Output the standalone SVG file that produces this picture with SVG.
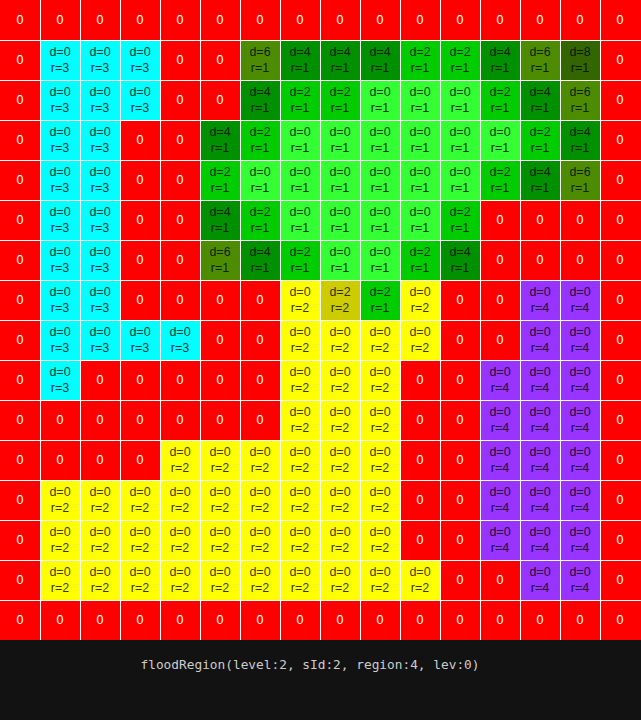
<svg xmlns="http://www.w3.org/2000/svg" width="641" height="720" viewBox="0 0 641 720">
<style>
.R{fill:#ff0000}.C{fill:#00ffff}.Y{fill:#ffff00}.y{fill:#cccc00}.P{fill:#9933ff}
.g0{fill:#33ff33}.g2{fill:#00cc00}.g4{fill:#009000}.g6{fill:#4d8c00}.g8{fill:#336600}
text{font-family:"Liberation Sans",Arial,sans-serif;font-size:12.5px;text-anchor:middle}
.z{fill:#ffffff}
.t{fill:#000000;fill-opacity:0.8}
.lbl{font-family:"DejaVu Sans Mono","Liberation Mono",monospace;font-size:12.8px;fill:#cccccc}
.grid{fill:#ffffff}
</style>
<rect x="0" y="640" width="641" height="80" fill="#121212"/>
<g id="cells">
<!-- row 0 -->
<g id="r0c0"><rect class="R" x="0" y="0" width="40" height="40"/><text class="z" x="20" y="24">0</text></g>
<g id="r0c1"><rect class="R" x="40" y="0" width="40" height="40"/><text class="z" x="60" y="24">0</text></g>
<g id="r0c2"><rect class="R" x="80" y="0" width="40" height="40"/><text class="z" x="100" y="24">0</text></g>
<g id="r0c3"><rect class="R" x="120" y="0" width="40" height="40"/><text class="z" x="140" y="24">0</text></g>
<g id="r0c4"><rect class="R" x="160" y="0" width="40" height="40"/><text class="z" x="180" y="24">0</text></g>
<g id="r0c5"><rect class="R" x="200" y="0" width="40" height="40"/><text class="z" x="220" y="24">0</text></g>
<g id="r0c6"><rect class="R" x="240" y="0" width="40" height="40"/><text class="z" x="260" y="24">0</text></g>
<g id="r0c7"><rect class="R" x="280" y="0" width="40" height="40"/><text class="z" x="300" y="24">0</text></g>
<g id="r0c8"><rect class="R" x="320" y="0" width="40" height="40"/><text class="z" x="340" y="24">0</text></g>
<g id="r0c9"><rect class="R" x="360" y="0" width="40" height="40"/><text class="z" x="380" y="24">0</text></g>
<g id="r0c10"><rect class="R" x="400" y="0" width="40" height="40"/><text class="z" x="420" y="24">0</text></g>
<g id="r0c11"><rect class="R" x="440" y="0" width="40" height="40"/><text class="z" x="460" y="24">0</text></g>
<g id="r0c12"><rect class="R" x="480" y="0" width="40" height="40"/><text class="z" x="500" y="24">0</text></g>
<g id="r0c13"><rect class="R" x="520" y="0" width="40" height="40"/><text class="z" x="540" y="24">0</text></g>
<g id="r0c14"><rect class="R" x="560" y="0" width="40" height="40"/><text class="z" x="580" y="24">0</text></g>
<g id="r0c15"><rect class="R" x="600" y="0" width="41" height="40"/><text class="z" x="620" y="24">0</text></g>
<!-- row 1 -->
<g id="r1c0"><rect class="R" x="0" y="40" width="40" height="40"/><text class="z" x="20" y="64">0</text></g>
<g id="r1c1"><rect class="C" x="40" y="40" width="40" height="40"/><text class="t" x="60" y="56">d=0</text><text class="t" x="60" y="72">r=3</text></g>
<g id="r1c2"><rect class="C" x="80" y="40" width="40" height="40"/><text class="t" x="100" y="56">d=0</text><text class="t" x="100" y="72">r=3</text></g>
<g id="r1c3"><rect class="C" x="120" y="40" width="40" height="40"/><text class="t" x="140" y="56">d=0</text><text class="t" x="140" y="72">r=3</text></g>
<g id="r1c4"><rect class="R" x="160" y="40" width="40" height="40"/><text class="z" x="180" y="64">0</text></g>
<g id="r1c5"><rect class="R" x="200" y="40" width="40" height="40"/><text class="z" x="220" y="64">0</text></g>
<g id="r1c6"><rect class="g6" x="240" y="40" width="40" height="40"/><text class="t" x="260" y="56">d=6</text><text class="t" x="260" y="72">r=1</text></g>
<g id="r1c7"><rect class="g4" x="280" y="40" width="40" height="40"/><text class="t" x="300" y="56">d=4</text><text class="t" x="300" y="72">r=1</text></g>
<g id="r1c8"><rect class="g4" x="320" y="40" width="40" height="40"/><text class="t" x="340" y="56">d=4</text><text class="t" x="340" y="72">r=1</text></g>
<g id="r1c9"><rect class="g4" x="360" y="40" width="40" height="40"/><text class="t" x="380" y="56">d=4</text><text class="t" x="380" y="72">r=1</text></g>
<g id="r1c10"><rect class="g2" x="400" y="40" width="40" height="40"/><text class="t" x="420" y="56">d=2</text><text class="t" x="420" y="72">r=1</text></g>
<g id="r1c11"><rect class="g2" x="440" y="40" width="40" height="40"/><text class="t" x="460" y="56">d=2</text><text class="t" x="460" y="72">r=1</text></g>
<g id="r1c12"><rect class="g4" x="480" y="40" width="40" height="40"/><text class="t" x="500" y="56">d=4</text><text class="t" x="500" y="72">r=1</text></g>
<g id="r1c13"><rect class="g6" x="520" y="40" width="40" height="40"/><text class="t" x="540" y="56">d=6</text><text class="t" x="540" y="72">r=1</text></g>
<g id="r1c14"><rect class="g8" x="560" y="40" width="40" height="40"/><text class="t" x="580" y="56">d=8</text><text class="t" x="580" y="72">r=1</text></g>
<g id="r1c15"><rect class="R" x="600" y="40" width="41" height="40"/><text class="z" x="620" y="64">0</text></g>
<!-- row 2 -->
<g id="r2c0"><rect class="R" x="0" y="80" width="40" height="40"/><text class="z" x="20" y="104">0</text></g>
<g id="r2c1"><rect class="C" x="40" y="80" width="40" height="40"/><text class="t" x="60" y="96">d=0</text><text class="t" x="60" y="112">r=3</text></g>
<g id="r2c2"><rect class="C" x="80" y="80" width="40" height="40"/><text class="t" x="100" y="96">d=0</text><text class="t" x="100" y="112">r=3</text></g>
<g id="r2c3"><rect class="C" x="120" y="80" width="40" height="40"/><text class="t" x="140" y="96">d=0</text><text class="t" x="140" y="112">r=3</text></g>
<g id="r2c4"><rect class="R" x="160" y="80" width="40" height="40"/><text class="z" x="180" y="104">0</text></g>
<g id="r2c5"><rect class="R" x="200" y="80" width="40" height="40"/><text class="z" x="220" y="104">0</text></g>
<g id="r2c6"><rect class="g4" x="240" y="80" width="40" height="40"/><text class="t" x="260" y="96">d=4</text><text class="t" x="260" y="112">r=1</text></g>
<g id="r2c7"><rect class="g2" x="280" y="80" width="40" height="40"/><text class="t" x="300" y="96">d=2</text><text class="t" x="300" y="112">r=1</text></g>
<g id="r2c8"><rect class="g2" x="320" y="80" width="40" height="40"/><text class="t" x="340" y="96">d=2</text><text class="t" x="340" y="112">r=1</text></g>
<g id="r2c9"><rect class="g0" x="360" y="80" width="40" height="40"/><text class="t" x="380" y="96">d=0</text><text class="t" x="380" y="112">r=1</text></g>
<g id="r2c10"><rect class="g0" x="400" y="80" width="40" height="40"/><text class="t" x="420" y="96">d=0</text><text class="t" x="420" y="112">r=1</text></g>
<g id="r2c11"><rect class="g0" x="440" y="80" width="40" height="40"/><text class="t" x="460" y="96">d=0</text><text class="t" x="460" y="112">r=1</text></g>
<g id="r2c12"><rect class="g2" x="480" y="80" width="40" height="40"/><text class="t" x="500" y="96">d=2</text><text class="t" x="500" y="112">r=1</text></g>
<g id="r2c13"><rect class="g4" x="520" y="80" width="40" height="40"/><text class="t" x="540" y="96">d=4</text><text class="t" x="540" y="112">r=1</text></g>
<g id="r2c14"><rect class="g6" x="560" y="80" width="40" height="40"/><text class="t" x="580" y="96">d=6</text><text class="t" x="580" y="112">r=1</text></g>
<g id="r2c15"><rect class="R" x="600" y="80" width="41" height="40"/><text class="z" x="620" y="104">0</text></g>
<!-- row 3 -->
<g id="r3c0"><rect class="R" x="0" y="120" width="40" height="40"/><text class="z" x="20" y="144">0</text></g>
<g id="r3c1"><rect class="C" x="40" y="120" width="40" height="40"/><text class="t" x="60" y="136">d=0</text><text class="t" x="60" y="152">r=3</text></g>
<g id="r3c2"><rect class="C" x="80" y="120" width="40" height="40"/><text class="t" x="100" y="136">d=0</text><text class="t" x="100" y="152">r=3</text></g>
<g id="r3c3"><rect class="R" x="120" y="120" width="40" height="40"/><text class="z" x="140" y="144">0</text></g>
<g id="r3c4"><rect class="R" x="160" y="120" width="40" height="40"/><text class="z" x="180" y="144">0</text></g>
<g id="r3c5"><rect class="g4" x="200" y="120" width="40" height="40"/><text class="t" x="220" y="136">d=4</text><text class="t" x="220" y="152">r=1</text></g>
<g id="r3c6"><rect class="g2" x="240" y="120" width="40" height="40"/><text class="t" x="260" y="136">d=2</text><text class="t" x="260" y="152">r=1</text></g>
<g id="r3c7"><rect class="g0" x="280" y="120" width="40" height="40"/><text class="t" x="300" y="136">d=0</text><text class="t" x="300" y="152">r=1</text></g>
<g id="r3c8"><rect class="g0" x="320" y="120" width="40" height="40"/><text class="t" x="340" y="136">d=0</text><text class="t" x="340" y="152">r=1</text></g>
<g id="r3c9"><rect class="g0" x="360" y="120" width="40" height="40"/><text class="t" x="380" y="136">d=0</text><text class="t" x="380" y="152">r=1</text></g>
<g id="r3c10"><rect class="g0" x="400" y="120" width="40" height="40"/><text class="t" x="420" y="136">d=0</text><text class="t" x="420" y="152">r=1</text></g>
<g id="r3c11"><rect class="g0" x="440" y="120" width="40" height="40"/><text class="t" x="460" y="136">d=0</text><text class="t" x="460" y="152">r=1</text></g>
<g id="r3c12"><rect class="g0" x="480" y="120" width="40" height="40"/><text class="t" x="500" y="136">d=0</text><text class="t" x="500" y="152">r=1</text></g>
<g id="r3c13"><rect class="g2" x="520" y="120" width="40" height="40"/><text class="t" x="540" y="136">d=2</text><text class="t" x="540" y="152">r=1</text></g>
<g id="r3c14"><rect class="g4" x="560" y="120" width="40" height="40"/><text class="t" x="580" y="136">d=4</text><text class="t" x="580" y="152">r=1</text></g>
<g id="r3c15"><rect class="R" x="600" y="120" width="41" height="40"/><text class="z" x="620" y="144">0</text></g>
<!-- row 4 -->
<g id="r4c0"><rect class="R" x="0" y="160" width="40" height="40"/><text class="z" x="20" y="184">0</text></g>
<g id="r4c1"><rect class="C" x="40" y="160" width="40" height="40"/><text class="t" x="60" y="176">d=0</text><text class="t" x="60" y="192">r=3</text></g>
<g id="r4c2"><rect class="C" x="80" y="160" width="40" height="40"/><text class="t" x="100" y="176">d=0</text><text class="t" x="100" y="192">r=3</text></g>
<g id="r4c3"><rect class="R" x="120" y="160" width="40" height="40"/><text class="z" x="140" y="184">0</text></g>
<g id="r4c4"><rect class="R" x="160" y="160" width="40" height="40"/><text class="z" x="180" y="184">0</text></g>
<g id="r4c5"><rect class="g2" x="200" y="160" width="40" height="40"/><text class="t" x="220" y="176">d=2</text><text class="t" x="220" y="192">r=1</text></g>
<g id="r4c6"><rect class="g0" x="240" y="160" width="40" height="40"/><text class="t" x="260" y="176">d=0</text><text class="t" x="260" y="192">r=1</text></g>
<g id="r4c7"><rect class="g0" x="280" y="160" width="40" height="40"/><text class="t" x="300" y="176">d=0</text><text class="t" x="300" y="192">r=1</text></g>
<g id="r4c8"><rect class="g0" x="320" y="160" width="40" height="40"/><text class="t" x="340" y="176">d=0</text><text class="t" x="340" y="192">r=1</text></g>
<g id="r4c9"><rect class="g0" x="360" y="160" width="40" height="40"/><text class="t" x="380" y="176">d=0</text><text class="t" x="380" y="192">r=1</text></g>
<g id="r4c10"><rect class="g0" x="400" y="160" width="40" height="40"/><text class="t" x="420" y="176">d=0</text><text class="t" x="420" y="192">r=1</text></g>
<g id="r4c11"><rect class="g0" x="440" y="160" width="40" height="40"/><text class="t" x="460" y="176">d=0</text><text class="t" x="460" y="192">r=1</text></g>
<g id="r4c12"><rect class="g2" x="480" y="160" width="40" height="40"/><text class="t" x="500" y="176">d=2</text><text class="t" x="500" y="192">r=1</text></g>
<g id="r4c13"><rect class="g4" x="520" y="160" width="40" height="40"/><text class="t" x="540" y="176">d=4</text><text class="t" x="540" y="192">r=1</text></g>
<g id="r4c14"><rect class="g6" x="560" y="160" width="40" height="40"/><text class="t" x="580" y="176">d=6</text><text class="t" x="580" y="192">r=1</text></g>
<g id="r4c15"><rect class="R" x="600" y="160" width="41" height="40"/><text class="z" x="620" y="184">0</text></g>
<!-- row 5 -->
<g id="r5c0"><rect class="R" x="0" y="200" width="40" height="40"/><text class="z" x="20" y="224">0</text></g>
<g id="r5c1"><rect class="C" x="40" y="200" width="40" height="40"/><text class="t" x="60" y="216">d=0</text><text class="t" x="60" y="232">r=3</text></g>
<g id="r5c2"><rect class="C" x="80" y="200" width="40" height="40"/><text class="t" x="100" y="216">d=0</text><text class="t" x="100" y="232">r=3</text></g>
<g id="r5c3"><rect class="R" x="120" y="200" width="40" height="40"/><text class="z" x="140" y="224">0</text></g>
<g id="r5c4"><rect class="R" x="160" y="200" width="40" height="40"/><text class="z" x="180" y="224">0</text></g>
<g id="r5c5"><rect class="g4" x="200" y="200" width="40" height="40"/><text class="t" x="220" y="216">d=4</text><text class="t" x="220" y="232">r=1</text></g>
<g id="r5c6"><rect class="g2" x="240" y="200" width="40" height="40"/><text class="t" x="260" y="216">d=2</text><text class="t" x="260" y="232">r=1</text></g>
<g id="r5c7"><rect class="g0" x="280" y="200" width="40" height="40"/><text class="t" x="300" y="216">d=0</text><text class="t" x="300" y="232">r=1</text></g>
<g id="r5c8"><rect class="g0" x="320" y="200" width="40" height="40"/><text class="t" x="340" y="216">d=0</text><text class="t" x="340" y="232">r=1</text></g>
<g id="r5c9"><rect class="g0" x="360" y="200" width="40" height="40"/><text class="t" x="380" y="216">d=0</text><text class="t" x="380" y="232">r=1</text></g>
<g id="r5c10"><rect class="g0" x="400" y="200" width="40" height="40"/><text class="t" x="420" y="216">d=0</text><text class="t" x="420" y="232">r=1</text></g>
<g id="r5c11"><rect class="g2" x="440" y="200" width="40" height="40"/><text class="t" x="460" y="216">d=2</text><text class="t" x="460" y="232">r=1</text></g>
<g id="r5c12"><rect class="R" x="480" y="200" width="40" height="40"/><text class="z" x="500" y="224">0</text></g>
<g id="r5c13"><rect class="R" x="520" y="200" width="40" height="40"/><text class="z" x="540" y="224">0</text></g>
<g id="r5c14"><rect class="R" x="560" y="200" width="40" height="40"/><text class="z" x="580" y="224">0</text></g>
<g id="r5c15"><rect class="R" x="600" y="200" width="41" height="40"/><text class="z" x="620" y="224">0</text></g>
<!-- row 6 -->
<g id="r6c0"><rect class="R" x="0" y="240" width="40" height="40"/><text class="z" x="20" y="264">0</text></g>
<g id="r6c1"><rect class="C" x="40" y="240" width="40" height="40"/><text class="t" x="60" y="256">d=0</text><text class="t" x="60" y="272">r=3</text></g>
<g id="r6c2"><rect class="C" x="80" y="240" width="40" height="40"/><text class="t" x="100" y="256">d=0</text><text class="t" x="100" y="272">r=3</text></g>
<g id="r6c3"><rect class="R" x="120" y="240" width="40" height="40"/><text class="z" x="140" y="264">0</text></g>
<g id="r6c4"><rect class="R" x="160" y="240" width="40" height="40"/><text class="z" x="180" y="264">0</text></g>
<g id="r6c5"><rect class="g6" x="200" y="240" width="40" height="40"/><text class="t" x="220" y="256">d=6</text><text class="t" x="220" y="272">r=1</text></g>
<g id="r6c6"><rect class="g4" x="240" y="240" width="40" height="40"/><text class="t" x="260" y="256">d=4</text><text class="t" x="260" y="272">r=1</text></g>
<g id="r6c7"><rect class="g2" x="280" y="240" width="40" height="40"/><text class="t" x="300" y="256">d=2</text><text class="t" x="300" y="272">r=1</text></g>
<g id="r6c8"><rect class="g0" x="320" y="240" width="40" height="40"/><text class="t" x="340" y="256">d=0</text><text class="t" x="340" y="272">r=1</text></g>
<g id="r6c9"><rect class="g0" x="360" y="240" width="40" height="40"/><text class="t" x="380" y="256">d=0</text><text class="t" x="380" y="272">r=1</text></g>
<g id="r6c10"><rect class="g2" x="400" y="240" width="40" height="40"/><text class="t" x="420" y="256">d=2</text><text class="t" x="420" y="272">r=1</text></g>
<g id="r6c11"><rect class="g4" x="440" y="240" width="40" height="40"/><text class="t" x="460" y="256">d=4</text><text class="t" x="460" y="272">r=1</text></g>
<g id="r6c12"><rect class="R" x="480" y="240" width="40" height="40"/><text class="z" x="500" y="264">0</text></g>
<g id="r6c13"><rect class="R" x="520" y="240" width="40" height="40"/><text class="z" x="540" y="264">0</text></g>
<g id="r6c14"><rect class="R" x="560" y="240" width="40" height="40"/><text class="z" x="580" y="264">0</text></g>
<g id="r6c15"><rect class="R" x="600" y="240" width="41" height="40"/><text class="z" x="620" y="264">0</text></g>
<!-- row 7 -->
<g id="r7c0"><rect class="R" x="0" y="280" width="40" height="40"/><text class="z" x="20" y="304">0</text></g>
<g id="r7c1"><rect class="C" x="40" y="280" width="40" height="40"/><text class="t" x="60" y="296">d=0</text><text class="t" x="60" y="312">r=3</text></g>
<g id="r7c2"><rect class="C" x="80" y="280" width="40" height="40"/><text class="t" x="100" y="296">d=0</text><text class="t" x="100" y="312">r=3</text></g>
<g id="r7c3"><rect class="R" x="120" y="280" width="40" height="40"/><text class="z" x="140" y="304">0</text></g>
<g id="r7c4"><rect class="R" x="160" y="280" width="40" height="40"/><text class="z" x="180" y="304">0</text></g>
<g id="r7c5"><rect class="R" x="200" y="280" width="40" height="40"/><text class="z" x="220" y="304">0</text></g>
<g id="r7c6"><rect class="R" x="240" y="280" width="40" height="40"/><text class="z" x="260" y="304">0</text></g>
<g id="r7c7"><rect class="Y" x="280" y="280" width="40" height="40"/><text class="t" x="300" y="296">d=0</text><text class="t" x="300" y="312">r=2</text></g>
<g id="r7c8"><rect class="y" x="320" y="280" width="40" height="40"/><text class="t" x="340" y="296">d=2</text><text class="t" x="340" y="312">r=2</text></g>
<g id="r7c9"><rect class="g2" x="360" y="280" width="40" height="40"/><text class="t" x="380" y="296">d=2</text><text class="t" x="380" y="312">r=1</text></g>
<g id="r7c10"><rect class="Y" x="400" y="280" width="40" height="40"/><text class="t" x="420" y="296">d=0</text><text class="t" x="420" y="312">r=2</text></g>
<g id="r7c11"><rect class="R" x="440" y="280" width="40" height="40"/><text class="z" x="460" y="304">0</text></g>
<g id="r7c12"><rect class="R" x="480" y="280" width="40" height="40"/><text class="z" x="500" y="304">0</text></g>
<g id="r7c13"><rect class="P" x="520" y="280" width="40" height="40"/><text class="t" x="540" y="296">d=0</text><text class="t" x="540" y="312">r=4</text></g>
<g id="r7c14"><rect class="P" x="560" y="280" width="40" height="40"/><text class="t" x="580" y="296">d=0</text><text class="t" x="580" y="312">r=4</text></g>
<g id="r7c15"><rect class="R" x="600" y="280" width="41" height="40"/><text class="z" x="620" y="304">0</text></g>
<!-- row 8 -->
<g id="r8c0"><rect class="R" x="0" y="320" width="40" height="40"/><text class="z" x="20" y="344">0</text></g>
<g id="r8c1"><rect class="C" x="40" y="320" width="40" height="40"/><text class="t" x="60" y="336">d=0</text><text class="t" x="60" y="352">r=3</text></g>
<g id="r8c2"><rect class="C" x="80" y="320" width="40" height="40"/><text class="t" x="100" y="336">d=0</text><text class="t" x="100" y="352">r=3</text></g>
<g id="r8c3"><rect class="C" x="120" y="320" width="40" height="40"/><text class="t" x="140" y="336">d=0</text><text class="t" x="140" y="352">r=3</text></g>
<g id="r8c4"><rect class="C" x="160" y="320" width="40" height="40"/><text class="t" x="180" y="336">d=0</text><text class="t" x="180" y="352">r=3</text></g>
<g id="r8c5"><rect class="R" x="200" y="320" width="40" height="40"/><text class="z" x="220" y="344">0</text></g>
<g id="r8c6"><rect class="R" x="240" y="320" width="40" height="40"/><text class="z" x="260" y="344">0</text></g>
<g id="r8c7"><rect class="Y" x="280" y="320" width="40" height="40"/><text class="t" x="300" y="336">d=0</text><text class="t" x="300" y="352">r=2</text></g>
<g id="r8c8"><rect class="Y" x="320" y="320" width="40" height="40"/><text class="t" x="340" y="336">d=0</text><text class="t" x="340" y="352">r=2</text></g>
<g id="r8c9"><rect class="Y" x="360" y="320" width="40" height="40"/><text class="t" x="380" y="336">d=0</text><text class="t" x="380" y="352">r=2</text></g>
<g id="r8c10"><rect class="Y" x="400" y="320" width="40" height="40"/><text class="t" x="420" y="336">d=0</text><text class="t" x="420" y="352">r=2</text></g>
<g id="r8c11"><rect class="R" x="440" y="320" width="40" height="40"/><text class="z" x="460" y="344">0</text></g>
<g id="r8c12"><rect class="R" x="480" y="320" width="40" height="40"/><text class="z" x="500" y="344">0</text></g>
<g id="r8c13"><rect class="P" x="520" y="320" width="40" height="40"/><text class="t" x="540" y="336">d=0</text><text class="t" x="540" y="352">r=4</text></g>
<g id="r8c14"><rect class="P" x="560" y="320" width="40" height="40"/><text class="t" x="580" y="336">d=0</text><text class="t" x="580" y="352">r=4</text></g>
<g id="r8c15"><rect class="R" x="600" y="320" width="41" height="40"/><text class="z" x="620" y="344">0</text></g>
<!-- row 9 -->
<g id="r9c0"><rect class="R" x="0" y="360" width="40" height="40"/><text class="z" x="20" y="384">0</text></g>
<g id="r9c1"><rect class="C" x="40" y="360" width="40" height="40"/><text class="t" x="60" y="376">d=0</text><text class="t" x="60" y="392">r=3</text></g>
<g id="r9c2"><rect class="R" x="80" y="360" width="40" height="40"/><text class="z" x="100" y="384">0</text></g>
<g id="r9c3"><rect class="R" x="120" y="360" width="40" height="40"/><text class="z" x="140" y="384">0</text></g>
<g id="r9c4"><rect class="R" x="160" y="360" width="40" height="40"/><text class="z" x="180" y="384">0</text></g>
<g id="r9c5"><rect class="R" x="200" y="360" width="40" height="40"/><text class="z" x="220" y="384">0</text></g>
<g id="r9c6"><rect class="R" x="240" y="360" width="40" height="40"/><text class="z" x="260" y="384">0</text></g>
<g id="r9c7"><rect class="Y" x="280" y="360" width="40" height="40"/><text class="t" x="300" y="376">d=0</text><text class="t" x="300" y="392">r=2</text></g>
<g id="r9c8"><rect class="Y" x="320" y="360" width="40" height="40"/><text class="t" x="340" y="376">d=0</text><text class="t" x="340" y="392">r=2</text></g>
<g id="r9c9"><rect class="Y" x="360" y="360" width="40" height="40"/><text class="t" x="380" y="376">d=0</text><text class="t" x="380" y="392">r=2</text></g>
<g id="r9c10"><rect class="R" x="400" y="360" width="40" height="40"/><text class="z" x="420" y="384">0</text></g>
<g id="r9c11"><rect class="R" x="440" y="360" width="40" height="40"/><text class="z" x="460" y="384">0</text></g>
<g id="r9c12"><rect class="P" x="480" y="360" width="40" height="40"/><text class="t" x="500" y="376">d=0</text><text class="t" x="500" y="392">r=4</text></g>
<g id="r9c13"><rect class="P" x="520" y="360" width="40" height="40"/><text class="t" x="540" y="376">d=0</text><text class="t" x="540" y="392">r=4</text></g>
<g id="r9c14"><rect class="P" x="560" y="360" width="40" height="40"/><text class="t" x="580" y="376">d=0</text><text class="t" x="580" y="392">r=4</text></g>
<g id="r9c15"><rect class="R" x="600" y="360" width="41" height="40"/><text class="z" x="620" y="384">0</text></g>
<!-- row 10 -->
<g id="r10c0"><rect class="R" x="0" y="400" width="40" height="40"/><text class="z" x="20" y="424">0</text></g>
<g id="r10c1"><rect class="R" x="40" y="400" width="40" height="40"/><text class="z" x="60" y="424">0</text></g>
<g id="r10c2"><rect class="R" x="80" y="400" width="40" height="40"/><text class="z" x="100" y="424">0</text></g>
<g id="r10c3"><rect class="R" x="120" y="400" width="40" height="40"/><text class="z" x="140" y="424">0</text></g>
<g id="r10c4"><rect class="R" x="160" y="400" width="40" height="40"/><text class="z" x="180" y="424">0</text></g>
<g id="r10c5"><rect class="R" x="200" y="400" width="40" height="40"/><text class="z" x="220" y="424">0</text></g>
<g id="r10c6"><rect class="R" x="240" y="400" width="40" height="40"/><text class="z" x="260" y="424">0</text></g>
<g id="r10c7"><rect class="Y" x="280" y="400" width="40" height="40"/><text class="t" x="300" y="416">d=0</text><text class="t" x="300" y="432">r=2</text></g>
<g id="r10c8"><rect class="Y" x="320" y="400" width="40" height="40"/><text class="t" x="340" y="416">d=0</text><text class="t" x="340" y="432">r=2</text></g>
<g id="r10c9"><rect class="Y" x="360" y="400" width="40" height="40"/><text class="t" x="380" y="416">d=0</text><text class="t" x="380" y="432">r=2</text></g>
<g id="r10c10"><rect class="R" x="400" y="400" width="40" height="40"/><text class="z" x="420" y="424">0</text></g>
<g id="r10c11"><rect class="R" x="440" y="400" width="40" height="40"/><text class="z" x="460" y="424">0</text></g>
<g id="r10c12"><rect class="P" x="480" y="400" width="40" height="40"/><text class="t" x="500" y="416">d=0</text><text class="t" x="500" y="432">r=4</text></g>
<g id="r10c13"><rect class="P" x="520" y="400" width="40" height="40"/><text class="t" x="540" y="416">d=0</text><text class="t" x="540" y="432">r=4</text></g>
<g id="r10c14"><rect class="P" x="560" y="400" width="40" height="40"/><text class="t" x="580" y="416">d=0</text><text class="t" x="580" y="432">r=4</text></g>
<g id="r10c15"><rect class="R" x="600" y="400" width="41" height="40"/><text class="z" x="620" y="424">0</text></g>
<!-- row 11 -->
<g id="r11c0"><rect class="R" x="0" y="440" width="40" height="40"/><text class="z" x="20" y="464">0</text></g>
<g id="r11c1"><rect class="R" x="40" y="440" width="40" height="40"/><text class="z" x="60" y="464">0</text></g>
<g id="r11c2"><rect class="R" x="80" y="440" width="40" height="40"/><text class="z" x="100" y="464">0</text></g>
<g id="r11c3"><rect class="R" x="120" y="440" width="40" height="40"/><text class="z" x="140" y="464">0</text></g>
<g id="r11c4"><rect class="Y" x="160" y="440" width="40" height="40"/><text class="t" x="180" y="456">d=0</text><text class="t" x="180" y="472">r=2</text></g>
<g id="r11c5"><rect class="Y" x="200" y="440" width="40" height="40"/><text class="t" x="220" y="456">d=0</text><text class="t" x="220" y="472">r=2</text></g>
<g id="r11c6"><rect class="Y" x="240" y="440" width="40" height="40"/><text class="t" x="260" y="456">d=0</text><text class="t" x="260" y="472">r=2</text></g>
<g id="r11c7"><rect class="Y" x="280" y="440" width="40" height="40"/><text class="t" x="300" y="456">d=0</text><text class="t" x="300" y="472">r=2</text></g>
<g id="r11c8"><rect class="Y" x="320" y="440" width="40" height="40"/><text class="t" x="340" y="456">d=0</text><text class="t" x="340" y="472">r=2</text></g>
<g id="r11c9"><rect class="Y" x="360" y="440" width="40" height="40"/><text class="t" x="380" y="456">d=0</text><text class="t" x="380" y="472">r=2</text></g>
<g id="r11c10"><rect class="R" x="400" y="440" width="40" height="40"/><text class="z" x="420" y="464">0</text></g>
<g id="r11c11"><rect class="R" x="440" y="440" width="40" height="40"/><text class="z" x="460" y="464">0</text></g>
<g id="r11c12"><rect class="P" x="480" y="440" width="40" height="40"/><text class="t" x="500" y="456">d=0</text><text class="t" x="500" y="472">r=4</text></g>
<g id="r11c13"><rect class="P" x="520" y="440" width="40" height="40"/><text class="t" x="540" y="456">d=0</text><text class="t" x="540" y="472">r=4</text></g>
<g id="r11c14"><rect class="P" x="560" y="440" width="40" height="40"/><text class="t" x="580" y="456">d=0</text><text class="t" x="580" y="472">r=4</text></g>
<g id="r11c15"><rect class="R" x="600" y="440" width="41" height="40"/><text class="z" x="620" y="464">0</text></g>
<!-- row 12 -->
<g id="r12c0"><rect class="R" x="0" y="480" width="40" height="40"/><text class="z" x="20" y="504">0</text></g>
<g id="r12c1"><rect class="Y" x="40" y="480" width="40" height="40"/><text class="t" x="60" y="496">d=0</text><text class="t" x="60" y="512">r=2</text></g>
<g id="r12c2"><rect class="Y" x="80" y="480" width="40" height="40"/><text class="t" x="100" y="496">d=0</text><text class="t" x="100" y="512">r=2</text></g>
<g id="r12c3"><rect class="Y" x="120" y="480" width="40" height="40"/><text class="t" x="140" y="496">d=0</text><text class="t" x="140" y="512">r=2</text></g>
<g id="r12c4"><rect class="Y" x="160" y="480" width="40" height="40"/><text class="t" x="180" y="496">d=0</text><text class="t" x="180" y="512">r=2</text></g>
<g id="r12c5"><rect class="Y" x="200" y="480" width="40" height="40"/><text class="t" x="220" y="496">d=0</text><text class="t" x="220" y="512">r=2</text></g>
<g id="r12c6"><rect class="Y" x="240" y="480" width="40" height="40"/><text class="t" x="260" y="496">d=0</text><text class="t" x="260" y="512">r=2</text></g>
<g id="r12c7"><rect class="Y" x="280" y="480" width="40" height="40"/><text class="t" x="300" y="496">d=0</text><text class="t" x="300" y="512">r=2</text></g>
<g id="r12c8"><rect class="Y" x="320" y="480" width="40" height="40"/><text class="t" x="340" y="496">d=0</text><text class="t" x="340" y="512">r=2</text></g>
<g id="r12c9"><rect class="Y" x="360" y="480" width="40" height="40"/><text class="t" x="380" y="496">d=0</text><text class="t" x="380" y="512">r=2</text></g>
<g id="r12c10"><rect class="R" x="400" y="480" width="40" height="40"/><text class="z" x="420" y="504">0</text></g>
<g id="r12c11"><rect class="R" x="440" y="480" width="40" height="40"/><text class="z" x="460" y="504">0</text></g>
<g id="r12c12"><rect class="P" x="480" y="480" width="40" height="40"/><text class="t" x="500" y="496">d=0</text><text class="t" x="500" y="512">r=4</text></g>
<g id="r12c13"><rect class="P" x="520" y="480" width="40" height="40"/><text class="t" x="540" y="496">d=0</text><text class="t" x="540" y="512">r=4</text></g>
<g id="r12c14"><rect class="P" x="560" y="480" width="40" height="40"/><text class="t" x="580" y="496">d=0</text><text class="t" x="580" y="512">r=4</text></g>
<g id="r12c15"><rect class="R" x="600" y="480" width="41" height="40"/><text class="z" x="620" y="504">0</text></g>
<!-- row 13 -->
<g id="r13c0"><rect class="R" x="0" y="520" width="40" height="40"/><text class="z" x="20" y="544">0</text></g>
<g id="r13c1"><rect class="Y" x="40" y="520" width="40" height="40"/><text class="t" x="60" y="536">d=0</text><text class="t" x="60" y="552">r=2</text></g>
<g id="r13c2"><rect class="Y" x="80" y="520" width="40" height="40"/><text class="t" x="100" y="536">d=0</text><text class="t" x="100" y="552">r=2</text></g>
<g id="r13c3"><rect class="Y" x="120" y="520" width="40" height="40"/><text class="t" x="140" y="536">d=0</text><text class="t" x="140" y="552">r=2</text></g>
<g id="r13c4"><rect class="Y" x="160" y="520" width="40" height="40"/><text class="t" x="180" y="536">d=0</text><text class="t" x="180" y="552">r=2</text></g>
<g id="r13c5"><rect class="Y" x="200" y="520" width="40" height="40"/><text class="t" x="220" y="536">d=0</text><text class="t" x="220" y="552">r=2</text></g>
<g id="r13c6"><rect class="Y" x="240" y="520" width="40" height="40"/><text class="t" x="260" y="536">d=0</text><text class="t" x="260" y="552">r=2</text></g>
<g id="r13c7"><rect class="Y" x="280" y="520" width="40" height="40"/><text class="t" x="300" y="536">d=0</text><text class="t" x="300" y="552">r=2</text></g>
<g id="r13c8"><rect class="Y" x="320" y="520" width="40" height="40"/><text class="t" x="340" y="536">d=0</text><text class="t" x="340" y="552">r=2</text></g>
<g id="r13c9"><rect class="Y" x="360" y="520" width="40" height="40"/><text class="t" x="380" y="536">d=0</text><text class="t" x="380" y="552">r=2</text></g>
<g id="r13c10"><rect class="R" x="400" y="520" width="40" height="40"/><text class="z" x="420" y="544">0</text></g>
<g id="r13c11"><rect class="R" x="440" y="520" width="40" height="40"/><text class="z" x="460" y="544">0</text></g>
<g id="r13c12"><rect class="P" x="480" y="520" width="40" height="40"/><text class="t" x="500" y="536">d=0</text><text class="t" x="500" y="552">r=4</text></g>
<g id="r13c13"><rect class="P" x="520" y="520" width="40" height="40"/><text class="t" x="540" y="536">d=0</text><text class="t" x="540" y="552">r=4</text></g>
<g id="r13c14"><rect class="P" x="560" y="520" width="40" height="40"/><text class="t" x="580" y="536">d=0</text><text class="t" x="580" y="552">r=4</text></g>
<g id="r13c15"><rect class="R" x="600" y="520" width="41" height="40"/><text class="z" x="620" y="544">0</text></g>
<!-- row 14 -->
<g id="r14c0"><rect class="R" x="0" y="560" width="40" height="40"/><text class="z" x="20" y="584">0</text></g>
<g id="r14c1"><rect class="Y" x="40" y="560" width="40" height="40"/><text class="t" x="60" y="576">d=0</text><text class="t" x="60" y="592">r=2</text></g>
<g id="r14c2"><rect class="Y" x="80" y="560" width="40" height="40"/><text class="t" x="100" y="576">d=0</text><text class="t" x="100" y="592">r=2</text></g>
<g id="r14c3"><rect class="Y" x="120" y="560" width="40" height="40"/><text class="t" x="140" y="576">d=0</text><text class="t" x="140" y="592">r=2</text></g>
<g id="r14c4"><rect class="Y" x="160" y="560" width="40" height="40"/><text class="t" x="180" y="576">d=0</text><text class="t" x="180" y="592">r=2</text></g>
<g id="r14c5"><rect class="Y" x="200" y="560" width="40" height="40"/><text class="t" x="220" y="576">d=0</text><text class="t" x="220" y="592">r=2</text></g>
<g id="r14c6"><rect class="Y" x="240" y="560" width="40" height="40"/><text class="t" x="260" y="576">d=0</text><text class="t" x="260" y="592">r=2</text></g>
<g id="r14c7"><rect class="Y" x="280" y="560" width="40" height="40"/><text class="t" x="300" y="576">d=0</text><text class="t" x="300" y="592">r=2</text></g>
<g id="r14c8"><rect class="Y" x="320" y="560" width="40" height="40"/><text class="t" x="340" y="576">d=0</text><text class="t" x="340" y="592">r=2</text></g>
<g id="r14c9"><rect class="Y" x="360" y="560" width="40" height="40"/><text class="t" x="380" y="576">d=0</text><text class="t" x="380" y="592">r=2</text></g>
<g id="r14c10"><rect class="Y" x="400" y="560" width="40" height="40"/><text class="t" x="420" y="576">d=0</text><text class="t" x="420" y="592">r=2</text></g>
<g id="r14c11"><rect class="R" x="440" y="560" width="40" height="40"/><text class="z" x="460" y="584">0</text></g>
<g id="r14c12"><rect class="R" x="480" y="560" width="40" height="40"/><text class="z" x="500" y="584">0</text></g>
<g id="r14c13"><rect class="P" x="520" y="560" width="40" height="40"/><text class="t" x="540" y="576">d=0</text><text class="t" x="540" y="592">r=4</text></g>
<g id="r14c14"><rect class="P" x="560" y="560" width="40" height="40"/><text class="t" x="580" y="576">d=0</text><text class="t" x="580" y="592">r=4</text></g>
<g id="r14c15"><rect class="R" x="600" y="560" width="41" height="40"/><text class="z" x="620" y="584">0</text></g>
<!-- row 15 -->
<g id="r15c0"><rect class="R" x="0" y="600" width="40" height="40"/><text class="z" x="20" y="624">0</text></g>
<g id="r15c1"><rect class="R" x="40" y="600" width="40" height="40"/><text class="z" x="60" y="624">0</text></g>
<g id="r15c2"><rect class="R" x="80" y="600" width="40" height="40"/><text class="z" x="100" y="624">0</text></g>
<g id="r15c3"><rect class="R" x="120" y="600" width="40" height="40"/><text class="z" x="140" y="624">0</text></g>
<g id="r15c4"><rect class="R" x="160" y="600" width="40" height="40"/><text class="z" x="180" y="624">0</text></g>
<g id="r15c5"><rect class="R" x="200" y="600" width="40" height="40"/><text class="z" x="220" y="624">0</text></g>
<g id="r15c6"><rect class="R" x="240" y="600" width="40" height="40"/><text class="z" x="260" y="624">0</text></g>
<g id="r15c7"><rect class="R" x="280" y="600" width="40" height="40"/><text class="z" x="300" y="624">0</text></g>
<g id="r15c8"><rect class="R" x="320" y="600" width="40" height="40"/><text class="z" x="340" y="624">0</text></g>
<g id="r15c9"><rect class="R" x="360" y="600" width="40" height="40"/><text class="z" x="380" y="624">0</text></g>
<g id="r15c10"><rect class="R" x="400" y="600" width="40" height="40"/><text class="z" x="420" y="624">0</text></g>
<g id="r15c11"><rect class="R" x="440" y="600" width="40" height="40"/><text class="z" x="460" y="624">0</text></g>
<g id="r15c12"><rect class="R" x="480" y="600" width="40" height="40"/><text class="z" x="500" y="624">0</text></g>
<g id="r15c13"><rect class="R" x="520" y="600" width="40" height="40"/><text class="z" x="540" y="624">0</text></g>
<g id="r15c14"><rect class="R" x="560" y="600" width="40" height="40"/><text class="z" x="580" y="624">0</text></g>
<g id="r15c15"><rect class="R" x="600" y="600" width="41" height="40"/><text class="z" x="620" y="624">0</text></g>
</g>
<g id="gridlines">
<rect class="grid" x="40" y="0" width="1" height="640"/>
<rect class="grid" x="80" y="0" width="1" height="640"/>
<rect class="grid" x="120" y="0" width="1" height="640"/>
<rect class="grid" x="160" y="0" width="1" height="640"/>
<rect class="grid" x="200" y="0" width="1" height="640"/>
<rect class="grid" x="240" y="0" width="1" height="640"/>
<rect class="grid" x="280" y="0" width="1" height="640"/>
<rect class="grid" x="320" y="0" width="1" height="640"/>
<rect class="grid" x="360" y="0" width="1" height="640"/>
<rect class="grid" x="400" y="0" width="1" height="640"/>
<rect class="grid" x="440" y="0" width="1" height="640"/>
<rect class="grid" x="480" y="0" width="1" height="640"/>
<rect class="grid" x="520" y="0" width="1" height="640"/>
<rect class="grid" x="560" y="0" width="1" height="640"/>
<rect class="grid" x="600" y="0" width="1" height="640"/>
<rect class="grid" x="0" y="40" width="641" height="1"/>
<rect class="grid" x="0" y="80" width="641" height="1"/>
<rect class="grid" x="0" y="120" width="641" height="1"/>
<rect class="grid" x="0" y="160" width="641" height="1"/>
<rect class="grid" x="0" y="200" width="641" height="1"/>
<rect class="grid" x="0" y="240" width="641" height="1"/>
<rect class="grid" x="0" y="280" width="641" height="1"/>
<rect class="grid" x="0" y="320" width="641" height="1"/>
<rect class="grid" x="0" y="360" width="641" height="1"/>
<rect class="grid" x="0" y="400" width="641" height="1"/>
<rect class="grid" x="0" y="440" width="641" height="1"/>
<rect class="grid" x="0" y="480" width="641" height="1"/>
<rect class="grid" x="0" y="520" width="641" height="1"/>
<rect class="grid" x="0" y="560" width="641" height="1"/>
<rect class="grid" x="0" y="600" width="641" height="1"/>
</g>
<text class="lbl" x="310" y="669">floodRegion(level:2, sId:2, region:4, lev:0)</text>
</svg>
